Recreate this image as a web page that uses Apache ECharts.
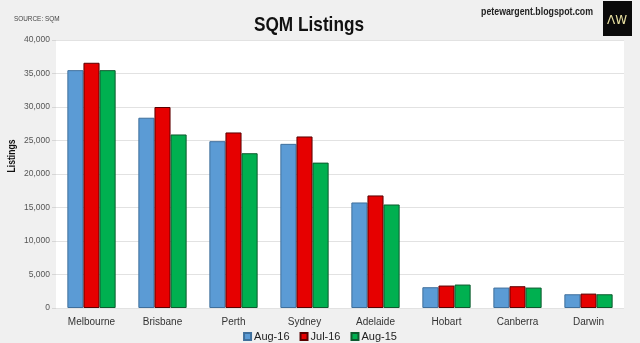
<!DOCTYPE html>
<html>
<head>
<meta charset="utf-8">
<script src="https://cdn.jsdelivr.net/npm/echarts@6/dist/echarts.min.js"></script>
<style>
  html, body { margin: 0; padding: 0; background: #f0f0f0; }
  #chart { width: 640px; height: 343px; }
</style>
</head>
<body>
<div id="chart"></div>
<script>
// Capital cities, SQM residential listings
const cities = ['Melbourne', 'Brisbane', 'Perth', 'Sydney', 'Adelaide', 'Hobart', 'Canberra', 'Darwin'];
const aug16 = [35500, 28400, 24900, 24500, 15750, 3100, 3050, 2050];
const jul16 = [36600, 30000, 26200, 25600, 16800, 3350, 3250, 2150];
const aug15 = [35500, 25900, 23100, 21700, 15450, 3500, 3050, 2050];
const seriesNames = ['Aug-16', 'Jul-16', 'Aug-15'];
const yTicks = { min: 0, max: 40000, step: 5000 };

const fills = ['#5b9bd5', '#e60000', '#00b050'];
const edges = ['#3f6f9c', '#5a0000', '#0d5a2e'];
const values = [aug16, jul16, aug15];

const chart = echarts.init(document.getElementById('chart'), null, { renderer: 'canvas' });

chart.setOption({
  backgroundColor: '#f0f0f0',
  animation: false,
  textStyle: { fontFamily: 'Liberation Sans, Arial, sans-serif' },
  graphic: [
    // condensed heading and credits
    { type: 'text', x: 309, y: 25, scaleX: 0.82,
      style: { text: 'SQM Listings', fontSize: 21, fontWeight: 'bold', fill: '#111', align: 'center', verticalAlign: 'middle', fontFamily: 'Liberation Sans, Arial' } },
    { type: 'text', x: 14, y: 19, scaleX: 0.8,
      style: { text: 'SOURCE: SQM', fontSize: 8, fill: '#444', align: 'left', verticalAlign: 'middle', fontFamily: 'Liberation Sans, Arial' } },
    { type: 'text', x: 593, y: 11.5, scaleX: 0.8,
      style: { text: 'petewargent.blogspot.com', fontSize: 11, fontWeight: 'bold', fill: '#222', align: 'right', verticalAlign: 'middle', fontFamily: 'Liberation Sans, Arial' } },
    { type: 'rect', shape: { x: 603, y: 1, width: 29, height: 35 }, style: { fill: '#0a0a0a' } },
    { type: 'text', x: 617, y: 21, style: { text: 'ΛW', fontSize: 12, fill: '#e8e0a0', align: 'center', verticalAlign: 'middle', fontFamily: 'DejaVu Sans' } },
    // vertical axis title
    { type: 'text', x: 12, y: 156, rotation: Math.PI / 2, scaleX: 0.78,
      style: { text: 'Listings', fontSize: 11, fontWeight: 'bold', fill: '#111', align: 'center', verticalAlign: 'middle', fontFamily: 'Liberation Sans, Arial' } },
    // plot panel
    { type: 'rect', shape: { x: 56, y: 40, width: 568, height: 268 }, style: { fill: '#ffffff' }, z: -1 }
  ],
  legend: {
    data: seriesNames,
    top: 331,
    left: 'center',
    padding: 0,
    itemWidth: 7,
    itemHeight: 7,
    itemGap: 10,
    icon: 'rect',
    textStyle: { fontSize: 11, color: '#222', padding: [0, 0, 0, -2] }
  },
  grid: { left: 56, right: 16, top: 40, bottom: 35, containLabel: false, outerBoundsMode: 'none' },
  xAxis: {
    type: 'category',
    data: cities,
    axisLine: { show: false },
    axisTick: { show: false },
    axisLabel: { fontSize: 10, color: '#333', margin: 9 }
  },
  yAxis: {
    type: 'value',
    min: yTicks.min,
    max: yTicks.max,
    interval: yTicks.step,
    axisLine: { show: false },
    axisTick: { show: true, length: 4, lineStyle: { color: '#d6d6d6' } },
    splitLine: { lineStyle: { color: '#e2e2e2', width: 1 } },
    axisLabel: {
      fontSize: 8.5,
      color: '#555',
      margin: 6,
      formatter: v => v.toLocaleString('en-US')
    }
  },
  series: seriesNames.map((name, i) => ({
    name,
    type: 'bar',
    data: values[i],
    barGap: '0%',
    barCategoryGap: '32%',
    itemStyle: { color: fills[i], borderColor: edges[i], borderWidth: 1 }
  }))
});
</script>
</body>
</html>
